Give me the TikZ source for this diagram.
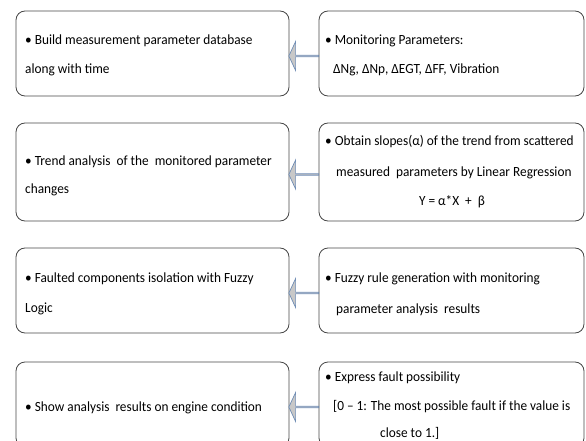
\documentclass[tikz,border=0pt]{standalone}
\usepackage{fontspec}
\setmainfont{Carlito}[FakeStretch=0.95]
\usetikzlibrary{shapes.arrows,calc}
\definecolor{arrowfill}{RGB}{200,200,200}
\definecolor{arrowline}{RGB}{110,140,180}
\definecolor{boxline}{RGB}{70,70,70}
\begin{document}
\begin{tikzpicture}[x=1pt,y=-1pt,
box/.style={rectangle,draw=boxline,rounded corners=9pt,line width=0.8pt},
leftbox/.style={box,minimum width=273pt},
rightbox/.style={box,minimum width=265pt},
txt/.style={anchor=base west,inner sep=0pt,font=\fontsize{14}{16}\selectfont},
blockarrow/.style={single arrow,shape border rotate=180,draw=arrowline,fill=arrowfill,line width=0.7pt,inner sep=0pt,minimum height=30pt,minimum width=29pt,single arrow head extend=7pt,single arrow tip angle=130,yshift=-2.5pt}]

\useasboundingbox (0,0) rectangle (586,441);
\clip (0,0) rectangle (586,441);

% row 1
\node[leftbox,minimum height=85pt] (l1) at (152.5,53.5) {};
\node[rightbox,minimum height=85pt] (r1) at (451.5,53.5) {};
\node[txt] (l1a) at (25,45) {• Build measurement parameter database};
\node[txt] (l1b) at (25,74) {along with time};
\node[txt] (r1a) at (325,45) {• Monitoring Parameters:};
\node[txt] (r1b) at (333,74) {ΔNg, ΔNp, ΔEGT, ΔFF, Vibration};

% row 2
\node[leftbox,minimum height=98pt] (l2) at (152.5,172) {};
\node[rightbox,minimum height=98pt] (r2) at (451.5,172) {};
\node[txt] (l2a) at (25,165) {• Trend analysis\ \ of the\ \ monitored parameter};
\node[txt] (l2b) at (25,193) {changes};
\node[txt] (r2a) at (325,146) {• Obtain slopes(α) of the trend from scattered};
\node[txt] (r2b) at (336,176) {measured\ \ parameters by Linear Regression};
\node[txt,anchor=base] (r2c) at (452,205) {Y = α*X\ \ + \ β};

% row 3
\node[leftbox,minimum height=85pt] (l3) at (152.5,290.5) {};
\node[rightbox,minimum height=85pt] (r3) at (451.5,290.5) {};
\node[txt] (l3a) at (25,282) {• Faulted components isolation with Fuzzy};
\node[txt] (l3b) at (25,312) {Logic};
\node[txt] (r3a) at (325,282) {• Fuzzy rule generation with monitoring};
\node[txt] (r3b) at (336,313) {parameter analysis\ \ results};

% row 4
\node[leftbox,minimum height=85pt] (l4) at (152.5,404.5) {};
\node[rightbox,minimum height=85pt] (r4) at (451.5,404.5) {};
\node[txt] (l4a) at (25,411) {• Show analysis\ \ results on engine condition};
\node[txt] (r4a) at (325,381) {• Express fault possibility};
\node[txt] (r4b) at (333,410) {[0 – 1: The most possible fault if the value is};
\node[txt] (r4c) at (380,437) {close to 1.]};

% arrows
\node[blockarrow] (a1) at ($(l1.east)!0.5!(r1.west)$) {};
\node[blockarrow] (a2) at ($(l2.east)!0.5!(r2.west)$) {};
\node[blockarrow] (a3) at ($(l3.east)!0.5!(r3.west)$) {};
\node[blockarrow] (a4) at ($(l4.east)!0.5!(r4.west)$) {};

\end{tikzpicture}
\end{document}
